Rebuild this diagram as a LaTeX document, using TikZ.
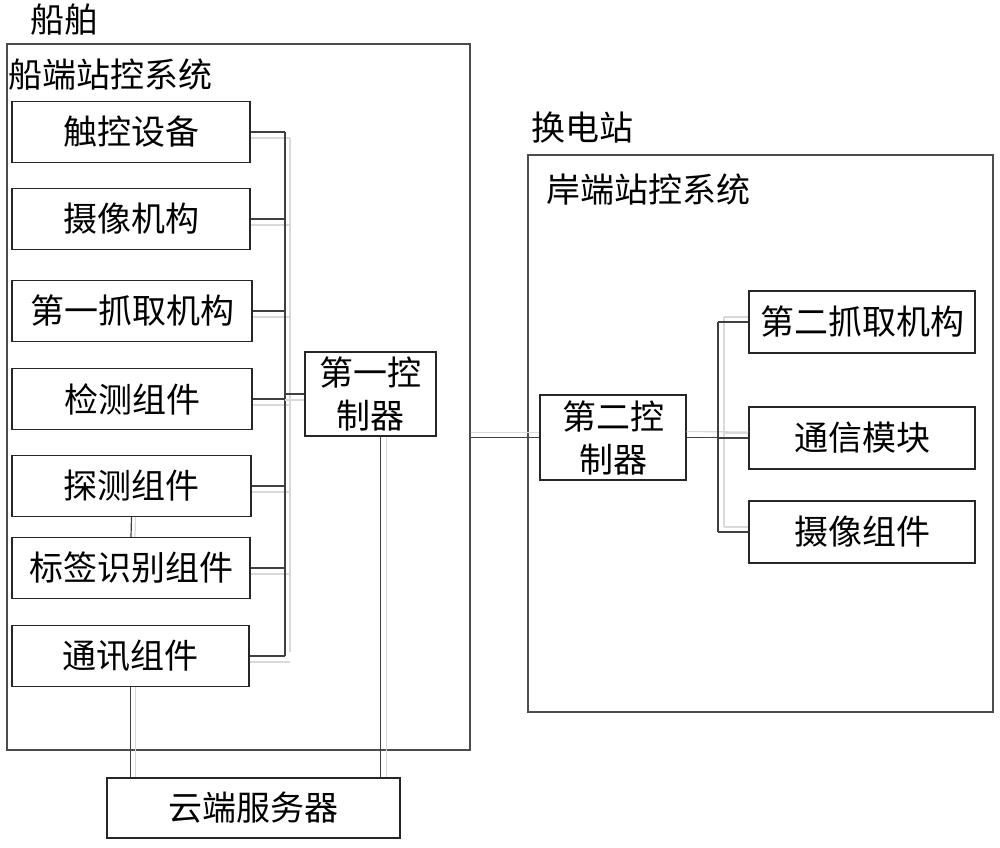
\documentclass[tikz,border=0pt]{standalone}
\usepackage{fontspec}
\newfontfamily\cjk{Noto Sans CJK SC}
\begin{document}
\begin{tikzpicture}[x=1pt,y=-1pt,
  box/.style={draw=black!85, line width=1.1pt, inner sep=0pt, font=\cjk\fontsize{34}{43}\selectfont, align=center},
  frame/.style={draw=black!70, line width=1.1pt, inner sep=0pt},
  lbl/.style={inner sep=0pt, anchor=west, font=\cjk\fontsize{34}{43}\selectfont},
  link/.style={draw=black!75, line width=1.2pt},
  shade/.style={draw=black!15, line width=1.2pt}]
\useasboundingbox (0,0) rectangle (1000,847);
% containers
\node[frame, minimum width=463pt, minimum height=706pt] (ship) at (238.5,397) {};
\node[frame, minimum width=465pt, minimum height=557pt] (station) at (760.5,433.5) {};
\node[lbl] (shipT) at (30,20) {船舶};
\node[lbl] (shipS) at (8,75) {船端站控系统};
\node[lbl] (stT) at (531,128) {换电站};
\node[lbl] (stS) at (546,190) {岸端站控系统};
% left boxes
\node[box, minimum width=238pt, minimum height=61pt] (b1) at (131,132) {触控设备};
\node[box, minimum width=238pt, minimum height=61pt] (b2) at (131,219) {摄像机构};
\node[box, minimum width=240pt, minimum height=61pt] (b3) at (132,311) {第一抓取机构};
\node[box, minimum width=240pt, minimum height=61pt] (b4) at (132,399) {检测组件};
\node[box, minimum width=239pt, minimum height=61pt] (b5) at (131.5,486) {探测组件};
\node[box, minimum width=238pt, minimum height=61pt] (b6) at (131,568) {标签识别组件};
\node[box, minimum width=237pt, minimum height=61pt] (b7) at (130.5,656) {通讯组件};
\node[box, minimum width=131pt, minimum height=84pt, text width=120pt] (c1) at (370.5,394) {第一控\\制器};
\node[box, minimum width=293pt, minimum height=60pt] (cloud) at (253.5,808) {云端服务器};
% right boxes
\node[box, minimum width=146pt, minimum height=85pt, text width=130pt] (c2) at (613,437.5) {第二控\\制器};
\node[box, minimum width=226pt, minimum height=62pt] (r1) at (862,322) {第二抓取机构};
\node[box, minimum width=226pt, minimum height=62pt] (r2) at (862,438) {通信模块};
\node[box, minimum width=226pt, minimum height=62pt] (r3) at (862,532) {摄像组件};
% bus coordinates
\coordinate (bus) at (285,0);
\coordinate (rbus) at (718,0);
% left bus
\foreach \n in {b1,b2,b3,b4,b5,b6,b7} {
  \draw[shade] ([yshift=-6pt]\n.east) -- ([yshift=-6pt,xshift=5pt]\n.east -| bus);
  \draw[link] (\n.east) -- (\n.east -| bus);
}
\draw[shade] ([xshift=5pt,yshift=-6pt]b1.east -| bus) -- ([xshift=5pt,yshift=4pt]b7.east -| bus);
\draw[link] (b1.east -| bus) -- (b7.east -| bus);
\draw[shade] ([yshift=-6pt]c1.west -| bus) -- ([yshift=-6pt]c1.west);
\draw[link] (c1.west -| bus) -- (c1.west);
% vertical links to cloud and between boxes
\draw[shade] ([xshift=4pt]b5.south) -- ([xshift=4pt]b6.north);
\draw[link] (b5.south) -- (b6.north);
\draw[shade] ([xshift=5pt]b7.south) -- ([xshift=5pt]b7.south |- cloud.north);
\draw[link] (b7.south) -- (b7.south |- cloud.north);
\draw[shade] ([xshift=16pt]c1.south) -- ([xshift=16pt]c1.south |- cloud.north);
\draw[link] ([xshift=10pt]c1.south) -- ([xshift=10pt]c1.south |- cloud.north);
% ship to station
\draw[shade] ([yshift=5pt]ship.east |- c2.west) -- ([yshift=5pt]c2.west);
\draw[link] (ship.east |- c2.west) -- (c2.west);
% right bus
\draw[link] (c2.east) -- (c2.east -| rbus);
\draw[shade] ([yshift=6pt]c2.east) -- ([yshift=6pt]r2.west);
\draw[shade] ([xshift=6pt,yshift=5pt]r1.west -| rbus) -- ([xshift=6pt,yshift=5pt]r3.west -| rbus);
\draw[link] (r1.west -| rbus) -- (r3.west -| rbus);
\foreach \n in {r1,r2,r3} {
  \draw[shade] ([xshift=6pt,yshift=5pt]\n.west -| rbus) -- ([yshift=5pt]\n.west);
  \draw[link] (\n.west -| rbus) -- (\n.west);
}
\end{tikzpicture}
\end{document}
